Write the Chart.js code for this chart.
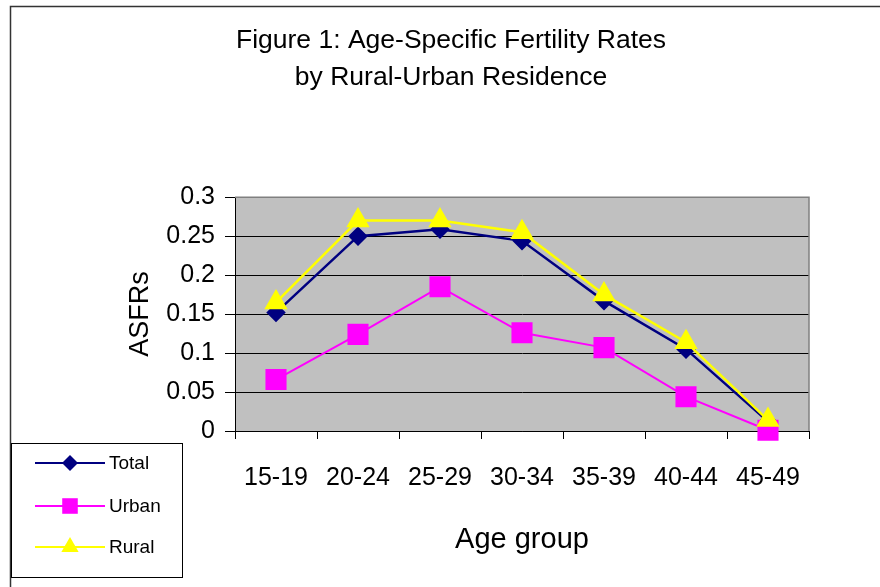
<!DOCTYPE html>
<html>
<head>
<meta charset="utf-8">
<script src="https://cdn.jsdelivr.net/npm/chart.js@4"></script>
<style>
  body { margin: 0; background: #fff; }
  #wrap { width: 880px; height: 587px; position: relative; }
</style>
</head>
<body>
<div id="wrap"><canvas id="asfrChart" width="880" height="587"></canvas></div>
<script>
const ageGroups = ['15-19', '20-24', '25-29', '30-34', '35-39', '40-44', '45-49'];
const totalRates = [0.152, 0.250, 0.259, 0.244, 0.167, 0.105, 0.012];
const urbanRates = [0.066, 0.124, 0.185, 0.126, 0.107, 0.044, 0.001];
const ruralRates = [0.165, 0.270, 0.270, 0.255, 0.175, 0.114, 0.014];
const yTickLabels = ['0', '0.05', '0.1', '0.15', '0.2', '0.25', '0.3'];

const fontFamily = '"Liberation Sans", Arial, sans-serif';

// grey plot background + outer frame
const plotBg = {
    id: 'plotBg',
    beforeDraw(chart) {
        const ctx = chart.ctx;
        const a = chart.chartArea;
        ctx.save();
        ctx.fillStyle = '#fff';
        ctx.fillRect(0, 0, chart.width, chart.height);
        ctx.fillStyle = '#c0c0c0';
        ctx.fillRect(a.left, a.top, a.right - a.left, a.bottom - a.top);
        ctx.strokeStyle = '#333';
        ctx.lineWidth = 1.5;
        ctx.beginPath();
        ctx.moveTo(880, 6.5);
        ctx.lineTo(10.5, 6.5);
        ctx.lineTo(10.5, 587);
        ctx.stroke();
        ctx.restore();
    },
    afterDraw(chart) {
        const ctx = chart.ctx;
        const a = chart.chartArea;
        ctx.save();
        ctx.strokeStyle = '#808080';
        ctx.lineWidth = 1.5;
        ctx.beginPath();
        ctx.moveTo(a.left, a.top);
        ctx.lineTo(a.right, a.top);
        ctx.lineTo(a.right, a.bottom);
        ctx.stroke();
        ctx.restore();
    }
};

// boxed legend in the lower-left corner
const boxLegend = {
    id: 'boxLegend',
    afterDraw(chart) {
        const ctx = chart.ctx;
        ctx.save();
        ctx.fillStyle = '#fff';
        ctx.fillRect(11, 443, 171, 134);
        ctx.strokeStyle = '#000';
        ctx.lineWidth = 1;
        ctx.strokeRect(11.5, 443.5, 171, 134);
        const rows = [463, 506, 547];
        chart.data.datasets.forEach((ds, i) => {
            const y = rows[i];
            ctx.strokeStyle = ds.borderColor;
            ctx.lineWidth = 2;
            ctx.beginPath();
            ctx.moveTo(35, y);
            ctx.lineTo(105, y);
            ctx.stroke();
            ctx.fillStyle = ds.pointBackgroundColor;
            ctx.strokeStyle = ds.pointBorderColor;
            Chart.helpers.drawPoint(ctx, {
                pointStyle: ds.pointStyle,
                rotation: 0,
                radius: ds.legendRadius,
                borderWidth: 0
            }, 70, y);
            ctx.fillStyle = '#000';
            ctx.font = '19px ' + fontFamily;
            ctx.textBaseline = 'middle';
            ctx.textAlign = 'left';
            ctx.fillText(ds.label, 109, y + 1);
        });
        ctx.restore();
    }
};

new Chart(document.getElementById('asfrChart'), {
    type: 'line',
    data: {
        labels: ageGroups,
        datasets: [
            {
                label: 'Total',
                data: totalRates,
                borderColor: '#000080',
                backgroundColor: '#000080',
                pointBackgroundColor: '#000080',
                pointBorderColor: '#000080',
                pointStyle: 'rectRot',
                pointRadius: 8,
                legendRadius: 8,
                borderWidth: 2.5,
                order: 2,
                clip: false
            },
            {
                label: 'Urban',
                data: urbanRates,
                borderColor: '#ff00ff',
                backgroundColor: '#ff00ff',
                pointBackgroundColor: '#ff00ff',
                pointBorderColor: '#ff00ff',
                pointStyle: 'rect',
                pointRadius: 13.5,
                legendRadius: 11,
                borderWidth: 2,
                order: 1,
                clip: false
            },
            {
                label: 'Rural',
                data: ruralRates,
                borderColor: '#ffff00',
                backgroundColor: '#ffff00',
                pointBackgroundColor: '#ffff00',
                pointBorderColor: '#ffff00',
                pointStyle: 'triangle',
                pointRadius: 11,
                legendRadius: 10,
                borderWidth: 2.5,
                order: 0,
                clip: false
            }
        ]
    },
    options: {
        responsive: false,
        animation: false,
        layout: { padding: { left: 93, right: 71, top: 0, bottom: 0 } },
        plugins: {
            legend: { display: false },
            tooltip: { enabled: false },
            title: {
                display: true,
                text: ['Figure 1: Age-Specific Fertility Rates', 'by Rural-Urban Residence'],
                color: '#000',
                font: { family: fontFamily, size: 26.5, weight: 'normal', lineHeight: 1.4 },
                padding: { top: 22, bottom: 101 }
            }
        },
        scales: {
            x: {
                offset: true,
                afterFit(scale) { scale.height = 156; },
                grid: {
                    offset: true,
                    drawOnChartArea: false,
                    color: '#000',
                    tickLength: 8
                },
                border: { color: '#000', width: 1 },
                ticks: {
                    color: '#000',
                    padding: 24,
                    maxRotation: 0,
                    font: { family: fontFamily, size: 25 }
                },
                title: {
                    display: true,
                    text: 'Age group',
                    color: '#000',
                    font: { family: fontFamily, size: 29 },
                    padding: { top: 0, bottom: 30 }
                }
            },
            y: {
                min: 0,
                max: 0.3,
                afterFit(scale) { scale.width = 142; },
                grid: {
                    color: '#000',
                    tickLength: 10
                },
                border: { color: '#000', width: 1 },
                ticks: {
                    stepSize: 0.05,
                    color: '#000',
                    padding: 10,
                    font: { family: fontFamily, size: 25 },
                    callback: (value, index) => yTickLabels[index]
                },
                title: {
                    display: true,
                    text: 'ASFRs',
                    color: '#000',
                    font: { family: fontFamily, size: 27 },
                    padding: { top: 31, bottom: 0 }
                }
            }
        }
    },
    plugins: [plotBg, boxLegend]
});
</script>
</body>
</html>
